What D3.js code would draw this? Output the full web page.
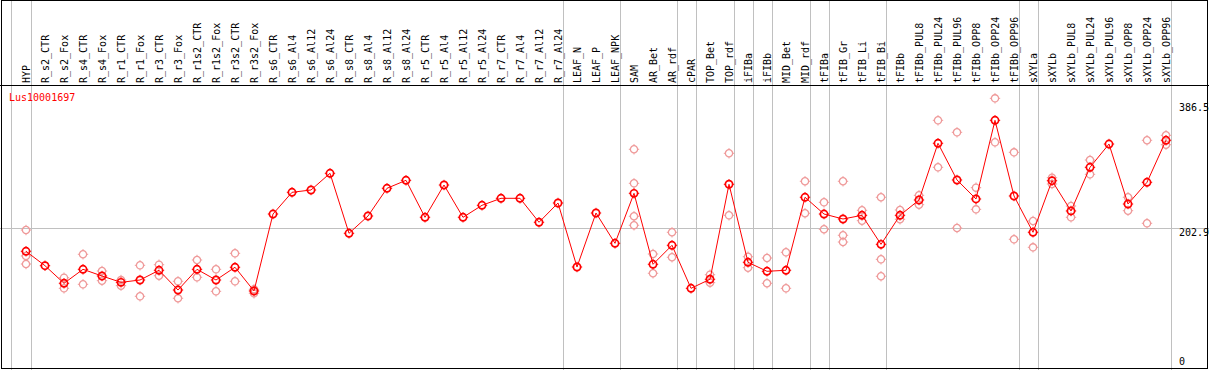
<!DOCTYPE html>
<html>
<head>
  <meta charset="UTF-8">
  <style>
    body { margin: 0; background: #fff; }
    svg { display: block; }
    text { font-family: 'DejaVu Sans Mono', monospace; font-size: 10px; }
  </style>
</head>
<body>
<svg></svg>
<script src="https://d3js.org/d3.v7.min.js"></script>
<script>

// ---- data
const categories = ["HYP","R_s2_CTR","R_s2_Fox","R_s4_CTR","R_s4_Fox","R_r1_CTR","R_r1_Fox","R_r3_CTR","R_r3_Fox",
  "R_r1s2_CTR","R_r1s2_Fox","R_r3s2_CTR","R_r3s2_Fox","R_s6_CTR","R_s6_Al4","R_s6_Al12","R_s6_Al24",
  "R_s8_CTR","R_s8_Al4","R_s8_Al12","R_s8_Al24","R_r5_CTR","R_r5_Al4","R_r5_Al12","R_r5_Al24",
  "R_r7_CTR","R_r7_Al4","R_r7_Al12","R_r7_Al24","LEAF_N","LEAF_P","LEAF_NPK","SAM","AR_Bet","AR_rdf",
  "cPAR","TOP_Bet","TOP_rdf","iFIBa","iFIBb","MID_Bet","MID_rdf","tFIBa","tFIB_Gr","tFIB_Li","tFIB_Bi",
  "tFIBb","tFIBb_PUL8","tFIBb_PUL24","tFIBb_PUL96","tFIBb_OPP8","tFIBb_OPP24","tFIBb_OPP96",
  "sXYLa","sXYLb","sXYLb_PUL8","sXYLb_PUL24","sXYLb_PUL96","sXYLb_OPP8","sXYLb_OPP24","sXYLb_OPP96"];

const means = [169.2,148.0,122.2,142.7,132.9,123.6,127.0,141.3,112.3,
  142.7,127.0,145.7,110.9,223.9,255.8,259.2,283.7,
  195.6,221.0,261.7,273.4,219.1,266.5,219.1,236.7,
  247.0,247.0,211.8,240.1,146.1,225.4,180.9,254.3,150.1,178.0,
  114.8,128.1,267.6,153.0,139.8,141.3,248.5,223.9,216.6,222.0,179.4,
  222.0,244.5,327.8,273.9,246.0,361.5,250.4,
  197.1,272.8,228.4,292.5,326.7,238.6,270.5,332.2];

const replicates = [
  [200.4,162.3,150.5],[],[130.4,114.8],[164.8,120.7],[140.2,126.0],[127.0,118.7],[148.6,103.1],[149.5,133.3],[125.1,100.2],
  [156.4,131.0],[142.7,110.4],[166.2,125.1],[113.4,107.5],[],[],[],[],
  [],[],[],[],[],[],[],[],
  [],[],[],[],[],[],[],[319.0,269.0,220.6,207.4],[165.2,136.9],[197.1,160.4],
  [],[134.8,123.1],[313.1,222.0],[161.2,145.1],[159.3,122.2],[167.7,114.8],[272.0,225.0],[241.1,201.5],[272.0,192.7,182.8],[229.4,214.1],[248.5,157.4,132.5],
  [229.8,216.2],[251.4,237.6],[361.5,292.5],[343.9,203.4],[262.6,230.8],[393.8,329.2],[314.5,186.8],
  [213.7,175.0],[277.2,268.0],[235.7,219.1],[303.2,282.2],[],[248.5,228.8],[332.2,210.3],[339.5,325.7]];

// last column of each group, a grey rule follows it
const groupEnds = ["HYP","R_r7_Al24","LEAF_NPK","AR_rdf","cPAR","TOP_rdf","iFIBa","iFIBb","MID_rdf",
  "tFIBa","tFIB_Bi","tFIBb_OPP96","sXYLa","sXYLb_OPP96"];

const yTicks = [0, 202.9, 386.5];
const gridTicks = [202.9];
const title = "Lus10001697";

// ---- layout
const width = 1209, height = 370;
const headerBottom = 85.5;

const svg = d3.select("svg").attr("width", width).attr("height", height);

const x = d3.scalePoint().domain(categories).range([26, 1166]);
const y = d3.scaleLinear().domain([0, 386.5]).range([366.5, 103.3]);

const grey = "#c0c0c0";

// vertical group rules
let ruleX = [x(categories[0]) - 15].concat(groupEnds.map(c => x(c) + 4.5));
svg.append("g").selectAll("line").data(ruleX).join("line")
  .attr("x1", d => Math.round(d) + 0.5).attr("x2", d => Math.round(d) + 0.5)
  .attr("y1", 0).attr("y2", height)
  .attr("stroke", grey).attr("shape-rendering", "crispEdges");

// horizontal grid
svg.append("g").selectAll("line").data(gridTicks).join("line")
  .attr("x1", 0).attr("x2", width)
  .attr("y1", d => Math.round(y(d)) + 0.5).attr("y2", d => Math.round(y(d)) + 0.5)
  .attr("stroke", grey).attr("shape-rendering", "crispEdges");

// header labels
svg.append("g").selectAll("text").data(categories).join("text")
  .attr("transform", d => "translate(" + (x(d) + 4) + "," + 83 + ") rotate(-90)")
  .attr("fill", "#000")
  .text(d => d);

// y labels on the right
svg.append("g").selectAll("text").data(yTicks).join("text")
  .attr("x", 1179)
  .attr("y", d => Math.min(y(d), 358))
  .attr("dominant-baseline", "hanging")
  .attr("fill", "#000")
  .text(d => d);

// title
svg.append("text").attr("x", 9).attr("y", 101).attr("fill", "red").text(title);

// marker: small circle with ticks at N/E/S/W
function marker(g, color, sw) {
  g.append("circle").attr("r", 3.6).attr("fill", "none").attr("stroke", color).attr("stroke-width", sw);
  g.append("path").attr("d", "M0,-3.6V-5.2M0,3.6V5.2M-3.6,0H-5.2M3.6,0H5.2")
    .attr("stroke", color).attr("stroke-width", 1);
}

// replicates
let repPts = [];
categories.forEach((c, i) => replicates[i].forEach(v => repPts.push({c: c, v: v})));
svg.append("g").selectAll("g").data(repPts).join("g")
  .attr("transform", d => "translate(" + x(d.c) + "," + y(d.v) + ")")
  .each(function() { marker(d3.select(this), "#ef9a9a", 1.3); });

// means
svg.append("g").selectAll("g").data(categories).join("g")
  .attr("transform", (d, i) => "translate(" + x(d) + "," + y(means[i]) + ")")
  .each(function() { marker(d3.select(this), "red", 1.7); });

svg.append("path")
  .attr("d", d3.line().x((d, i) => x(categories[i])).y(d => y(d))(means))
  .attr("fill", "none").attr("stroke", "red").attr("stroke-width", 1);

// frame and header rule
svg.append("rect").attr("x", 1.5).attr("y", 0.5).attr("width", 1206).attr("height", 368)
  .attr("fill", "none").attr("stroke", "#000").attr("shape-rendering", "crispEdges");
svg.append("line").attr("x1", 0).attr("x2", width).attr("y1", headerBottom).attr("y2", headerBottom)
  .attr("stroke", "#000").attr("shape-rendering", "crispEdges");

</script>
</body>
</html>
